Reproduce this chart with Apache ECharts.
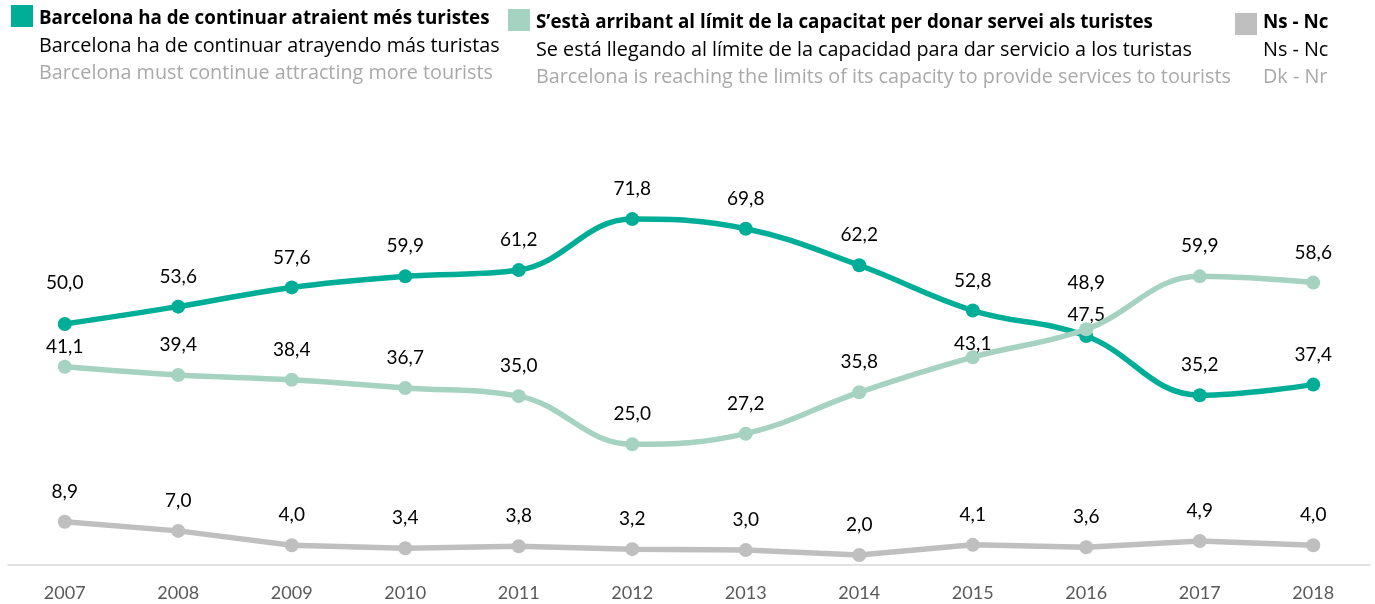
<!DOCTYPE html>
<html>
<head>
<meta charset="utf-8">
<script src="https://cdn.jsdelivr.net/npm/echarts@6/dist/echarts.min.js"></script>
<style>
  html, body { margin: 0; padding: 0; background: #fff; }
  #chart { width: 1375px; height: 604px; }
</style>
</head>
<body>
<div id="chart"></div>
<script>
// anys
const years = ['2007', '2008', '2009', '2010', '2011', '2012', '2013', '2014', '2015', '2016', '2017', '2018']

// valors (%)
const atraure = [50.0, 53.6, 57.6, 59.9, 61.2, 71.8, 69.8, 62.2, 52.8, 47.5, 35.2, 37.4]
const limit = [41.1, 39.4, 38.4, 36.7, 35.0, 25.0, 27.2, 35.8, 43.1, 48.9, 59.9, 58.6]
const nsnc = [8.9, 7.0, 4.0, 3.4, 3.8, 3.2, 3.0, 2.0, 4.1, 3.6, 4.9, 4.0]

// textos de la llegenda (ca / es / en)
const legendAtraure = ['Barcelona ha de continuar atraient més turistes', 'Barcelona ha de continuar atrayendo más turistas', 'Barcelona must continue attracting more tourists']
const legendLimit = ['S’està arribant al límit de la capacitat per donar servei als turistes', 'Se está llegando al límite de la capacidad para dar servicio a los turistas', 'Barcelona is reaching the limits of its capacity to provide services to tourists']
const legendNsnc = ['Ns - Nc', 'Ns - Nc', 'Dk - Nr']

const colors = {
  teal: '#00ae97',
  light: '#a6d2c2',
  gray: '#bfbfbf',
}
const font = 'Lato, "Open Sans", sans-serif'
const legendFont = '"Open Sans", Lato, sans-serif'

// etiquetes desplaçades a mà (índex -> píxels extra cap amunt)
const nudgeAtraure = { 0: 11, 9: -9 }
const nudgeLimit = { 0: -10, 8: -17, 9: 16 }

function withLabels(values, nudges) {
  return values.map((v, i) => ({
    value: v,
    label: { offset: [0, -30 - (nudges[i] || 0)] },
  }))
}

// quadrat de color + tres línies de text
function legendBlock(x, squareY, textY, color, lines) {
  const items = [
    { type: 'rect', shape: { x, y: squareY, width: 22, height: 22 }, style: { fill: color } },
  ]
  lines.forEach((t, i) => {
    items.push({
      type: 'text',
      x: x + 28,
      y: textY + i * 27,
      style: {
        text: t,
        font: i === 0 ? `bold 18.8px ${legendFont}` : `19.8px ${legendFont}`,
        fill: i === 2 ? '#a9a9a9' : '#000',
        verticalAlign: 'middle',
      },
    })
  })
  return items
}

const chart = echarts.init(document.getElementById('chart'))

const lineSeries = (name, values, color, smooth, nudges, z) => ({
  name,
  type: 'line',
  data: withLabels(values, nudges),
  smooth,
  symbol: 'circle',
  symbolSize: 14,
  lineStyle: { color, width: 5.5 },
  itemStyle: { color },
  label: {
    show: true,
    position: 'inside',
    formatter: p => p.value.toFixed(1).replace('.', ','),
    color: '#000',
    fontSize: 19,
    fontFamily: font,
  },
  emphasis: { disabled: true },
  z,
})

chart.setOption({
  animation: false,
  grid: { left: 8, right: 5, top: 183, bottom: 38 },
  xAxis: {
    type: 'category',
    data: years,
    boundaryGap: true,
    axisLine: { lineStyle: { color: '#d9d9d9', width: 1.5 } },
    axisTick: { show: false },
    axisLabel: { color: '#595959', fontSize: 18, fontFamily: font, margin: 18 },
  },
  yAxis: {
    type: 'value',
    min: -0.3,
    max: 79.3,
    show: false,
    splitLine: { show: false },
  },
  graphic: [
    ...legendBlock(11, 5, 19, colors.teal, legendAtraure),
    ...legendBlock(508, 9, 23, colors.light, legendLimit),
    ...legendBlock(1235, 13, 23, colors.gray, legendNsnc),
  ],
  series: [
    lineSeries(legendNsnc[0], nsnc, colors.gray, false, {}, 2),
    lineSeries(legendAtraure[0], atraure, colors.teal, 0.4, nudgeAtraure, 3),
    lineSeries(legendLimit[0], limit, colors.light, 0.4, nudgeLimit, 4),
  ],
})
</script>
</body>
</html>
